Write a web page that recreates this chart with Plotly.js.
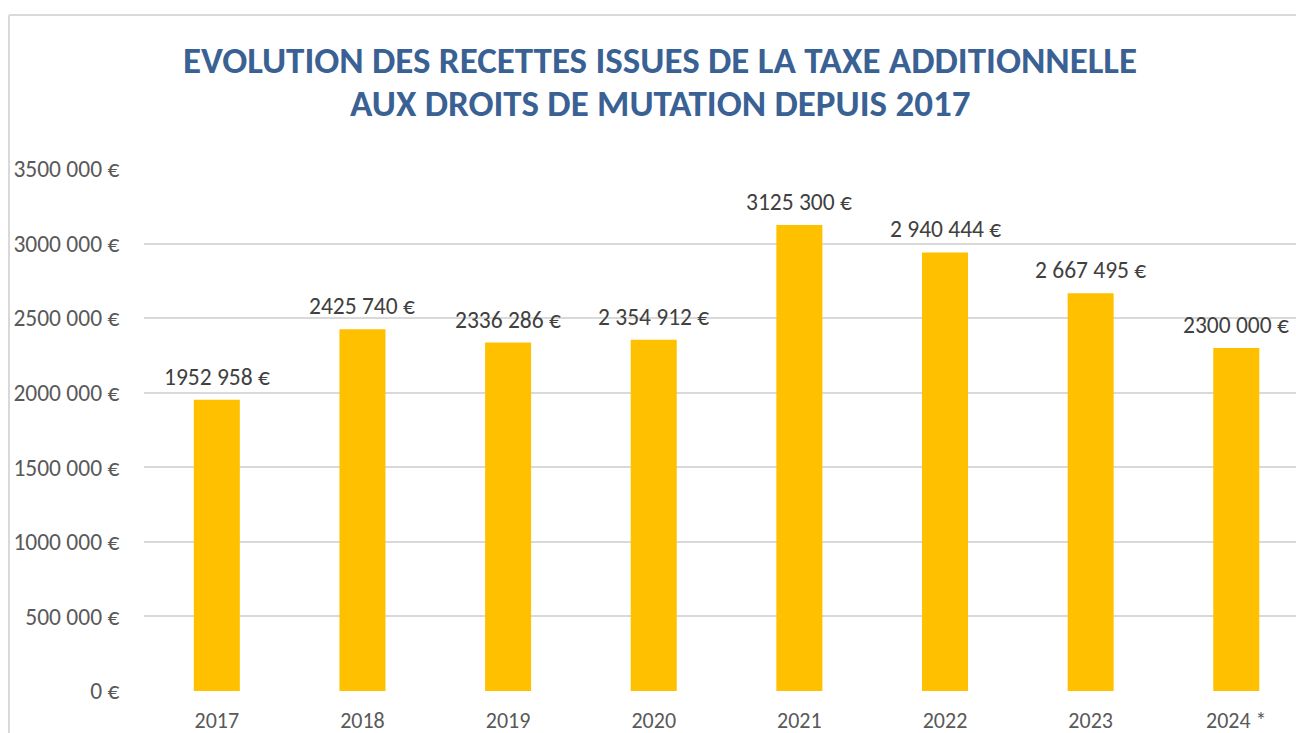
<!DOCTYPE html>
<html>
<head>
<meta charset="utf-8">
<script src="https://cdn.plot.ly/plotly-3.0.1.min.js"></script>
<style>
html,body{margin:0;padding:0;background:#fff;overflow:hidden;}
#chart{width:1296px;height:733px;}
</style>
</head>
<body>
<div id="chart"></div>
<script>
var categories = ["2017","2018","2019","2020","2021","2022","2023","2024 *"];
var values = [1952958, 2425740, 2336286, 2354912, 3125300, 2940444, 2667495, 2300000];
var valueLabels = ["1952 958 €","2425 740 €","2336 286 €","2 354 912 €","3125 300 €","2 940 444 €","2 667 495 €","2300 000 €"];
var tickValues = [0, 500000, 1000000, 1500000, 2000000, 2500000, 3000000, 3500000];
var tickLabels = ["0 €","500 000 €","1000 000 €","1500 000 €","2000 000 €","2500 000 €","3000 000 €","3500 000 €"];
var titleLine1 = "EVOLUTION DES RECETTES ISSUES DE LA TAXE ADDITIONNELLE";
var titleLine2 = "AUX DROITS DE MUTATION DEPUIS 2017";

var FONT = "Carlito, Calibri, Lato, 'Open Sans', sans-serif";
var TITLE_FONT = {family: FONT, size: 37, color: "#3A6193", weight: "bold"};

var trace = {
  type: "bar",
  x: categories,
  y: values,
  marker: {color: "#FFC000"},
  hoverinfo: "none"
};

var annotations = categories.map(function(c, i){
  return {
    x: i, y: values[i], xref: "x", yref: "y",
    text: valueLabels[i], showarrow: false,
    yanchor: "bottom", yshift: 7,
    font: {family: FONT, size: 23.5, color: "#404040"}
  };
});
annotations.push({
  x: (660-144)/1152, xref: "paper", xanchor: "center",
  y: (691-103)/522, yref: "paper", yanchor: "middle",
  text: titleLine2, showarrow: false, font: TITLE_FONT
});

var layout = {
  width: 1296, height: 733,
  margin: {l: 144, r: 0, t: 169, b: 42, pad: 0},
  paper_bgcolor: "#ffffff",
  plot_bgcolor: "#ffffff",
  showlegend: false,
  bargap: 0.684,
  title: {
    text: titleLine1,
    x: 660/1296, xref: "container", xanchor: "center",
    y: 1 - 60/733, yref: "container", yanchor: "middle",
    font: TITLE_FONT
  },
  xaxis: {
    type: "category",
    range: [-0.5, 7.41],
    showgrid: false, zeroline: false, showline: false,
    ticks: "outside", ticklen: 10, tickcolor: "rgba(0,0,0,0)",
    tickfont: {family: FONT, size: 22, color: "#595959"},
    fixedrange: true
  },
  yaxis: {
    range: [0, 3500000],
    tickvals: tickValues, ticktext: tickLabels,
    showgrid: true, gridcolor: "#d9d9d9", gridwidth: 2,
    zeroline: false, showline: false,
    ticks: "outside", ticklen: 19, tickcolor: "rgba(0,0,0,0)",
    tickfont: {family: FONT, size: 23.5, color: "#595959"},
    fixedrange: true
  },
  annotations: annotations,
  shapes: [
    {type: "line", xref: "paper", yref: "paper",
     x0: (9-144)/1152, x1: 1.01, y0: (733-42-15)/522, y1: (733-42-15)/522,
     line: {color: "#d9d9d9", width: 2}},
    {type: "line", xref: "paper", yref: "paper",
     x0: (9-144)/1152, x1: (9-144)/1152, y0: (733-42-15)/522, y1: -0.2,
     line: {color: "#d9d9d9", width: 2}}
  ]
};

Plotly.newPlot("chart", [trace], layout, {displayModeBar: false, staticPlot: true});
</script>
</body>
</html>
